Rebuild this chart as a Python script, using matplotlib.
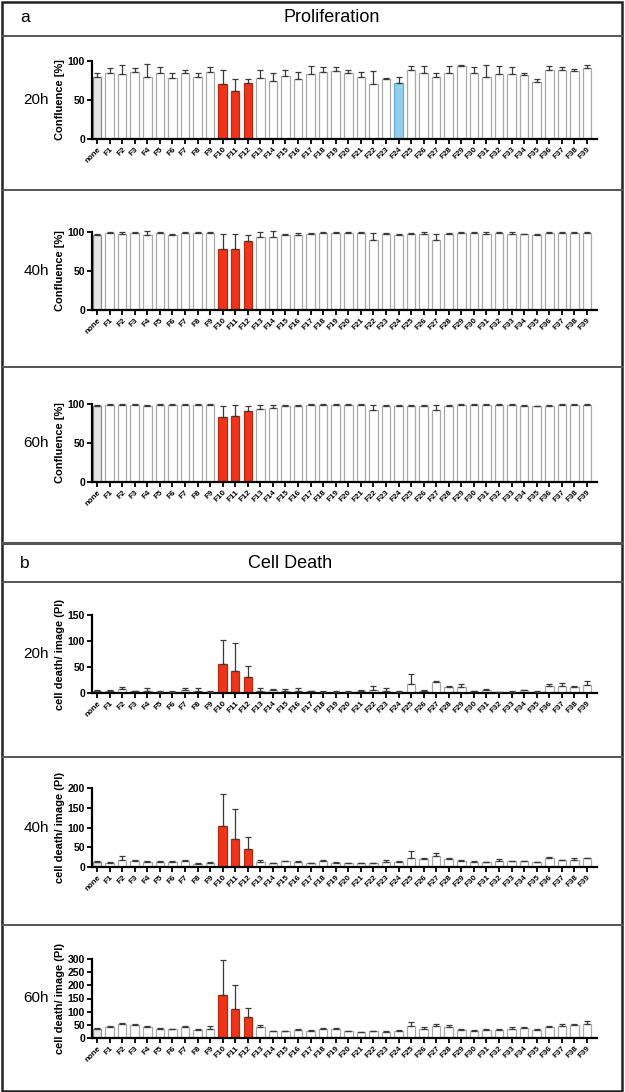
import numpy as np
import matplotlib
matplotlib.use('Agg')
import matplotlib.pyplot as plt
from matplotlib.patches import Rectangle

plt.rcParams['font.family'] = ['Liberation Sans', 'DejaVu Sans']

labels = ['none'] + ['F%d' % i for i in range(1, 40)]

# proliferation, confluence [%]: mean and upper SD
prol_20 = [80, 85, 83, 86, 80, 84, 78, 85, 79, 86, 71, 62, 72, 78, 74, 81, 77, 83, 86, 87,
           85, 80, 71, 77, 72, 89, 84, 79, 85, 94, 85, 80, 83, 83, 82, 73, 88, 88, 87, 91]
prol_20_err = [4, 6, 12, 5, 16, 8, 6, 3, 5, 6, 18, 15, 5, 11, 11, 7, 9, 11, 6, 5,
               4, 6, 16, 1, 8, 5, 10, 6, 9, 1, 7, 15, 10, 9, 2, 4, 5, 4, 3, 4]
prol_40 = [96, 99, 98, 99, 96, 99, 96, 99, 99, 99, 78, 78, 88, 93, 94, 96, 96, 97, 99, 99,
           99, 99, 90, 97, 96, 97, 97, 90, 98, 99, 99, 98, 99, 98, 97, 96, 99, 99, 99, 99]
prol_40_err = [1, 1, 2, 1, 5, 1, 2, 1, 1, 1, 19, 20, 8, 7, 7, 2, 3, 2, 1, 1,
               1, 1, 9, 2, 1, 2, 3, 8, 1, 1, 1, 2, 1, 2, 1, 2, 1, 1, 1, 1]
prol_60 = [98, 99, 99, 99, 97, 99, 99, 99, 99, 99, 83, 84, 91, 94, 95, 98, 98, 99, 99, 99,
           99, 99, 92, 98, 98, 98, 98, 92, 98, 99, 99, 99, 99, 99, 98, 97, 98, 99, 99, 99]
prol_60_err = [1, 1, 1, 1, 2, 1, 1, 1, 1, 1, 14, 15, 6, 5, 4, 1, 1, 1, 1, 1,
               1, 1, 7, 1, 1, 1, 1, 7, 1, 1, 1, 1, 1, 1, 1, 1, 1, 1, 1, 1]

# cell death / image (PI)
death_20 = [4, 3, 7, 3, 4, 2, 2, 5, 4, 2, 56, 43, 30, 4, 5, 4, 4, 3, 2, 2,
            2, 3, 6, 4, 2, 17, 4, 22, 11, 12, 3, 5, 1, 2, 5, 2, 13, 14, 11, 15]
death_20_err = [1, 3, 4, 1, 5, 1, 1, 4, 5, 1, 46, 54, 22, 6, 2, 4, 5, 1, 2, 1,
                1, 2, 7, 6, 2, 19, 2, 2, 3, 5, 1, 3, 1, 1, 1, 1, 4, 5, 2, 8]
death_40 = [13, 10, 17, 15, 13, 12, 12, 14, 8, 9, 105, 71, 46, 13, 9, 14, 12, 9, 14, 10,
            9, 9, 9, 12, 12, 23, 19, 29, 20, 16, 13, 12, 15, 15, 14, 12, 23, 17, 18, 22]
death_40_err = [2, 2, 10, 3, 2, 3, 2, 4, 1, 3, 81, 75, 30, 5, 1, 2, 4, 1, 3, 2,
                1, 1, 1, 5, 2, 18, 5, 6, 2, 1, 1, 1, 6, 1, 1, 1, 2, 1, 4, 1]
death_60 = [35, 40, 52, 50, 42, 35, 33, 40, 30, 35, 165, 110, 80, 42, 25, 25, 30, 28, 35, 35,
            25, 22, 25, 22, 25, 45, 35, 45, 40, 30, 28, 30, 30, 35, 38, 30, 40, 45, 50, 55]
death_60_err = [3, 4, 5, 4, 3, 3, 3, 4, 3, 10, 130, 90, 35, 8, 2, 3, 3, 3, 4, 3,
                3, 2, 3, 3, 4, 15, 5, 10, 8, 3, 3, 3, 5, 5, 4, 3, 4, 8, 5, 10]

W, H = 625, 1092
fig = plt.figure(figsize=(W / 100, H / 100), dpi=100)

# background axes in pixel coordinates for frame, separators and headings
bg = fig.add_axes([0, 0, 1, 1])
bg.set_xlim(0, W)
bg.set_ylim(H, 0)
bg.axis('off')
bg.add_patch(Rectangle((1.5, 1.5), 620.5, 1089, fill=False, lw=1.8, ec='#222222'))
for y, lw in [(36, 1.4), (190, 1.4), (367, 1.4), (543, 2.2), (582, 1.4), (757, 1.4), (925, 1.4)]:
    bg.plot([1.5, 622], [y, y], color='#555555', lw=lw)
bg.text(25, 18, 'a', fontsize=12.5, ha='center', va='center')
bg.text(332, 18, 'Proliferation', fontsize=13, ha='center', va='center')
bg.text(25, 564, 'b', fontsize=12.5, ha='center', va='center')
bg.text(290, 564, 'Cell Death', fontsize=13, ha='center', va='center')

RED = '#f0341a'
RED_EDGE = '#b52a12'


def panel(top, bottom, means, errs, ymax, yticks, ylabel, row, blue=False):
    left, right = 92, 597
    ax = fig.add_axes([left / W, 1 - bottom / H, (right - left) / W, (bottom - top) / H])
    x = np.arange(len(labels))
    face = ['white'] * len(labels)
    edge = ['#a8a8a8'] * len(labels)
    face[0], edge[0] = '#e6e6e6', '#8c8c8c'
    for i in (10, 11, 12):
        face[i], edge[i] = RED, RED_EDGE
    if blue:
        face[24], edge[24] = '#93cfe9', '#6aaccc'
    ax.bar(x, means, width=0.68, color=face, edgecolor=edge, linewidth=0.9, zorder=2)
    ax.errorbar(x, means, yerr=[np.zeros(len(errs)), errs], fmt='none', ecolor='#3a3a3a',
                elinewidth=0.9, capsize=2, capthick=0.9, clip_on=False, zorder=3)
    ax.set_xlim(-0.4, 39.8)
    ax.set_ylim(0, ymax)
    ax.set_yticks(yticks)
    ax.set_yticklabels([str(t) for t in yticks], fontsize=7.5, fontweight='bold')
    ax.set_xticks(x)
    ax.set_xticklabels(labels, rotation=45, ha='right', rotation_mode='anchor',
                       fontsize=5.8, fontweight='bold')
    for s in ('top', 'right'):
        ax.spines[s].set_visible(False)
    for s in ('left', 'bottom'):
        ax.spines[s].set_linewidth(1.6)
    ax.tick_params(axis='both', direction='out', length=3.5, width=1.3, pad=1.5)
    ax.set_ylabel(ylabel, fontsize=8, fontweight='bold', labelpad=2)
    bg.text(36, (top + bottom) / 2, row, fontsize=11, ha='center', va='center')
    return ax


conf = 'Confluence [%]'
panel(61, 139, prol_20, prol_20_err, 100, [0, 50, 100], conf, '20h', blue=True)
panel(232, 310, prol_40, prol_40_err, 100, [0, 50, 100], conf, '40h')
panel(404, 482, prol_60, prol_60_err, 100, [0, 50, 100], conf, '60h')

dl = 'cell death/ image (PI)'
panel(615, 693, death_20, death_20_err, 150, [0, 50, 100, 150], dl, '20h')
panel(788, 867, death_40, death_40_err, 200, [0, 50, 100, 150, 200], dl, '40h')
panel(959, 1038, death_60, death_60_err, 300, [0, 50, 100, 150, 200, 250, 300], dl, '60h')

fig.savefig('out.png', dpi=100)
